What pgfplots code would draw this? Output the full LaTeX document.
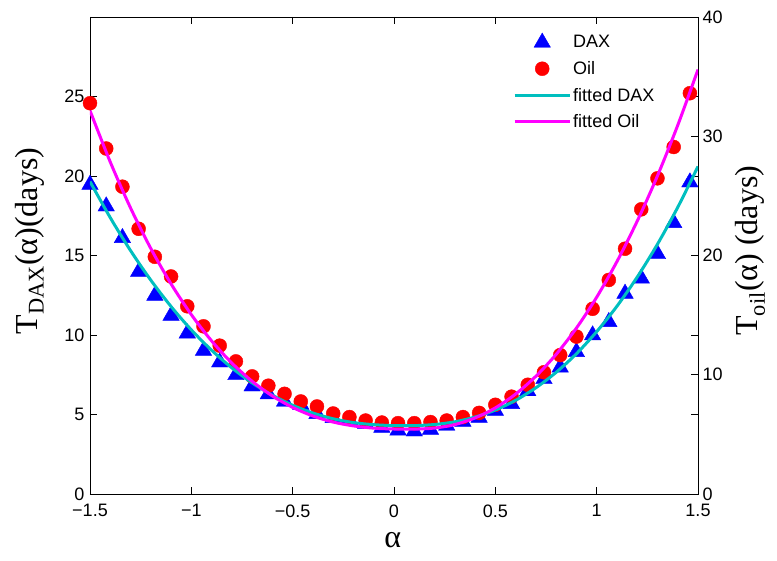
\documentclass[border=0pt]{standalone}
\usepackage{pgfplots}
\pgfplotsset{compat=1.18}
\usepackage{fontspec}
\setmainfont{Liberation Sans}
\newfontfamily\seriffont{Liberation Serif}
\definecolor{fitdax}{RGB}{0,191,191}
\definecolor{fitoil}{RGB}{255,0,255}

\pgfplotstableread{
x y
-1.50 19.60
-1.42 18.24
-1.34 16.25
-1.26 14.12
-1.18 12.62
-1.10 11.36
-1.02 10.25
-0.94 9.16
-0.86 8.43
-0.78 7.63
-0.70 6.92
-0.62 6.43
-0.54 5.96
-0.46 5.77
-0.38 5.18
-0.30 4.93
-0.22 4.80
-0.14 4.57
-0.06 4.32
0.02 4.15
0.10 4.09
0.18 4.19
0.26 4.45
0.34 4.70
0.42 4.95
0.50 5.39
0.58 5.81
0.66 6.62
0.74 7.38
0.82 8.11
0.90 9.08
0.98 10.13
1.06 10.97
1.14 12.75
1.22 13.71
1.30 15.24
1.38 17.20
1.46 19.75
}\daxdata

\pgfplotstableread{
x y
-1.50 32.77
-1.42 28.97
-1.34 25.77
-1.26 22.24
-1.18 19.89
-1.10 18.24
-1.02 15.74
-0.94 14.06
-0.86 12.44
-0.78 11.12
-0.70 9.86
-0.62 9.08
-0.54 8.40
-0.46 7.76
-0.38 7.34
-0.30 6.75
-0.22 6.45
-0.14 6.16
-0.06 5.99
0.02 5.94
0.10 5.94
0.18 6.03
0.26 6.16
0.34 6.45
0.42 6.80
0.50 7.48
0.58 8.16
0.66 9.16
0.74 10.21
0.82 11.65
0.90 13.20
0.98 15.53
1.06 17.95
1.14 20.57
1.22 23.87
1.30 26.47
1.38 29.10
1.46 33.61
}\oildata

\pgfplotstableread{
x y
-1.5 19.65
-1.4 17.38
-1.3 15.31
-1.2 13.45
-1.1 11.79
-1.0 10.32
-0.9 9.04
-0.8 7.93
-0.7 6.99
-0.6 6.21
-0.5 5.58
-0.4 5.09
-0.3 4.73
-0.2 4.49
-0.1 4.36
0.0 4.30
0.1 4.30
0.2 4.37
0.3 4.54
0.4 4.84
0.5 5.28
0.6 5.89
0.7 6.68
0.8 7.65
0.9 8.82
1.0 10.21
1.1 11.81
1.2 13.64
1.3 15.71
1.4 18.03
1.5 20.60
}\daxfit

\pgfplotstableread{
x y
-1.5 32.15
-1.4 27.84
-1.3 23.99
-1.2 20.59
-1.1 17.62
-1.0 15.04
-0.9 12.84
-0.8 10.98
-0.7 9.45
-0.6 8.22
-0.5 7.26
-0.4 6.54
-0.3 6.03
-0.2 5.71
-0.1 5.52
0.0 5.45
0.1 5.44
0.2 5.53
0.3 5.82
0.4 6.38
0.5 7.22
0.6 8.38
0.7 9.87
0.8 11.71
0.9 13.91
1.0 16.50
1.1 19.49
1.2 22.88
1.3 26.68
1.4 30.92
1.5 35.59
}\oilfit

\pgfplotsset{
  common/.style={
    at={(0pt,0pt)}, anchor=south west,
    width=608pt, height=477pt, scale only axis,
    xmin=-1.5, xmax=1.5,
    tick align=inside, major tick length=7pt,
    tick style={black, line width=0.8pt},
    axis line style={line width=0.9pt},
    ticklabel style={font=\fontsize{18}{20}\selectfont},
    /pgf/number format/assume math mode=true,
    clip=false,
  },
}

\begin{document}
\begin{tikzpicture}
\useasboundingbox (-90pt,-67pt) rectangle (687pt,494pt);

% left axis: DAX markers and frame
\begin{axis}[common,
  ymin=0, ymax=30,
  xtick={-1.5,-1,-0.5,0,0.5,1,1.5},
  xticklabels={−1.5,−1,−0.5,0,0.5,1,1.5},
  ytick={0,5,10,15,20,25},
  xticklabel style={yshift=-7pt},
  yticklabel style={xshift=-2pt},
  xlabel={\seriffont\fontsize{32}{34}\selectfont α},
  xlabel style={at={(axis description cs:0.498,-0.096)}, anchor=center},
  ylabel={\seriffont\fontsize{32}{34}\selectfont T\textsubscript{DAX}(α)(days)},
  ylabel style={at={(axis description cs:-0.099,0.53)}, anchor=center},
]
\addplot[only marks, mark=triangle*, mark size=9.5pt, color=blue,
  mark options={yshift=-2.3pt}] table {\daxdata};
\end{axis}

% right axis: Oil markers
\begin{axis}[common,
  ymin=0, ymax=40,
  axis x line=none, axis y line*=right,
  ytick={0,10,20,30,40},
  yticklabel style={xshift=1pt},
  ylabel={\seriffont\fontsize{32}{34}\selectfont T\textsubscript{oil}(α) (days)},
  ylabel style={at={(axis description cs:1.086,0.51)}, anchor=center},
]
\addplot[only marks, mark=*, mark size=7pt, color=red] table {\oildata};
\end{axis}

% fitted DAX (left scale)
\begin{axis}[common, hide axis, ymin=0, ymax=30, clip=true]
\addplot[fitdax, line width=3pt, smooth] table {\daxfit};
\end{axis}

% fitted Oil (right scale) + legend
\begin{axis}[common, hide axis, ymin=0, ymax=40, clip=true,
  legend image code/.code={\draw[mark repeat=2,mark phase=2,#1] plot coordinates {(0pt,0pt) (27.5pt,0pt) (55pt,0pt)};},
  legend style={at={(0.935,0.971)}, anchor=north east, draw=none, fill=none,
    font=\fontsize{18}{20}\selectfont, row sep=8pt, inner sep=2pt},
  legend cell align=left,
]
\addlegendimage{only marks, mark=triangle*, mark size=9.5pt, color=blue}
\addlegendentry{DAX}
\addlegendimage{only marks, mark=*, mark size=7pt, color=red}
\addlegendentry{Oil}
\addlegendimage{fitdax, line width=3pt}
\addlegendentry{fitted DAX}
\addplot[fitoil, line width=3pt, smooth] table {\oilfit};
\addlegendentry{fitted Oil}
\end{axis}
\end{tikzpicture}
\end{document}
